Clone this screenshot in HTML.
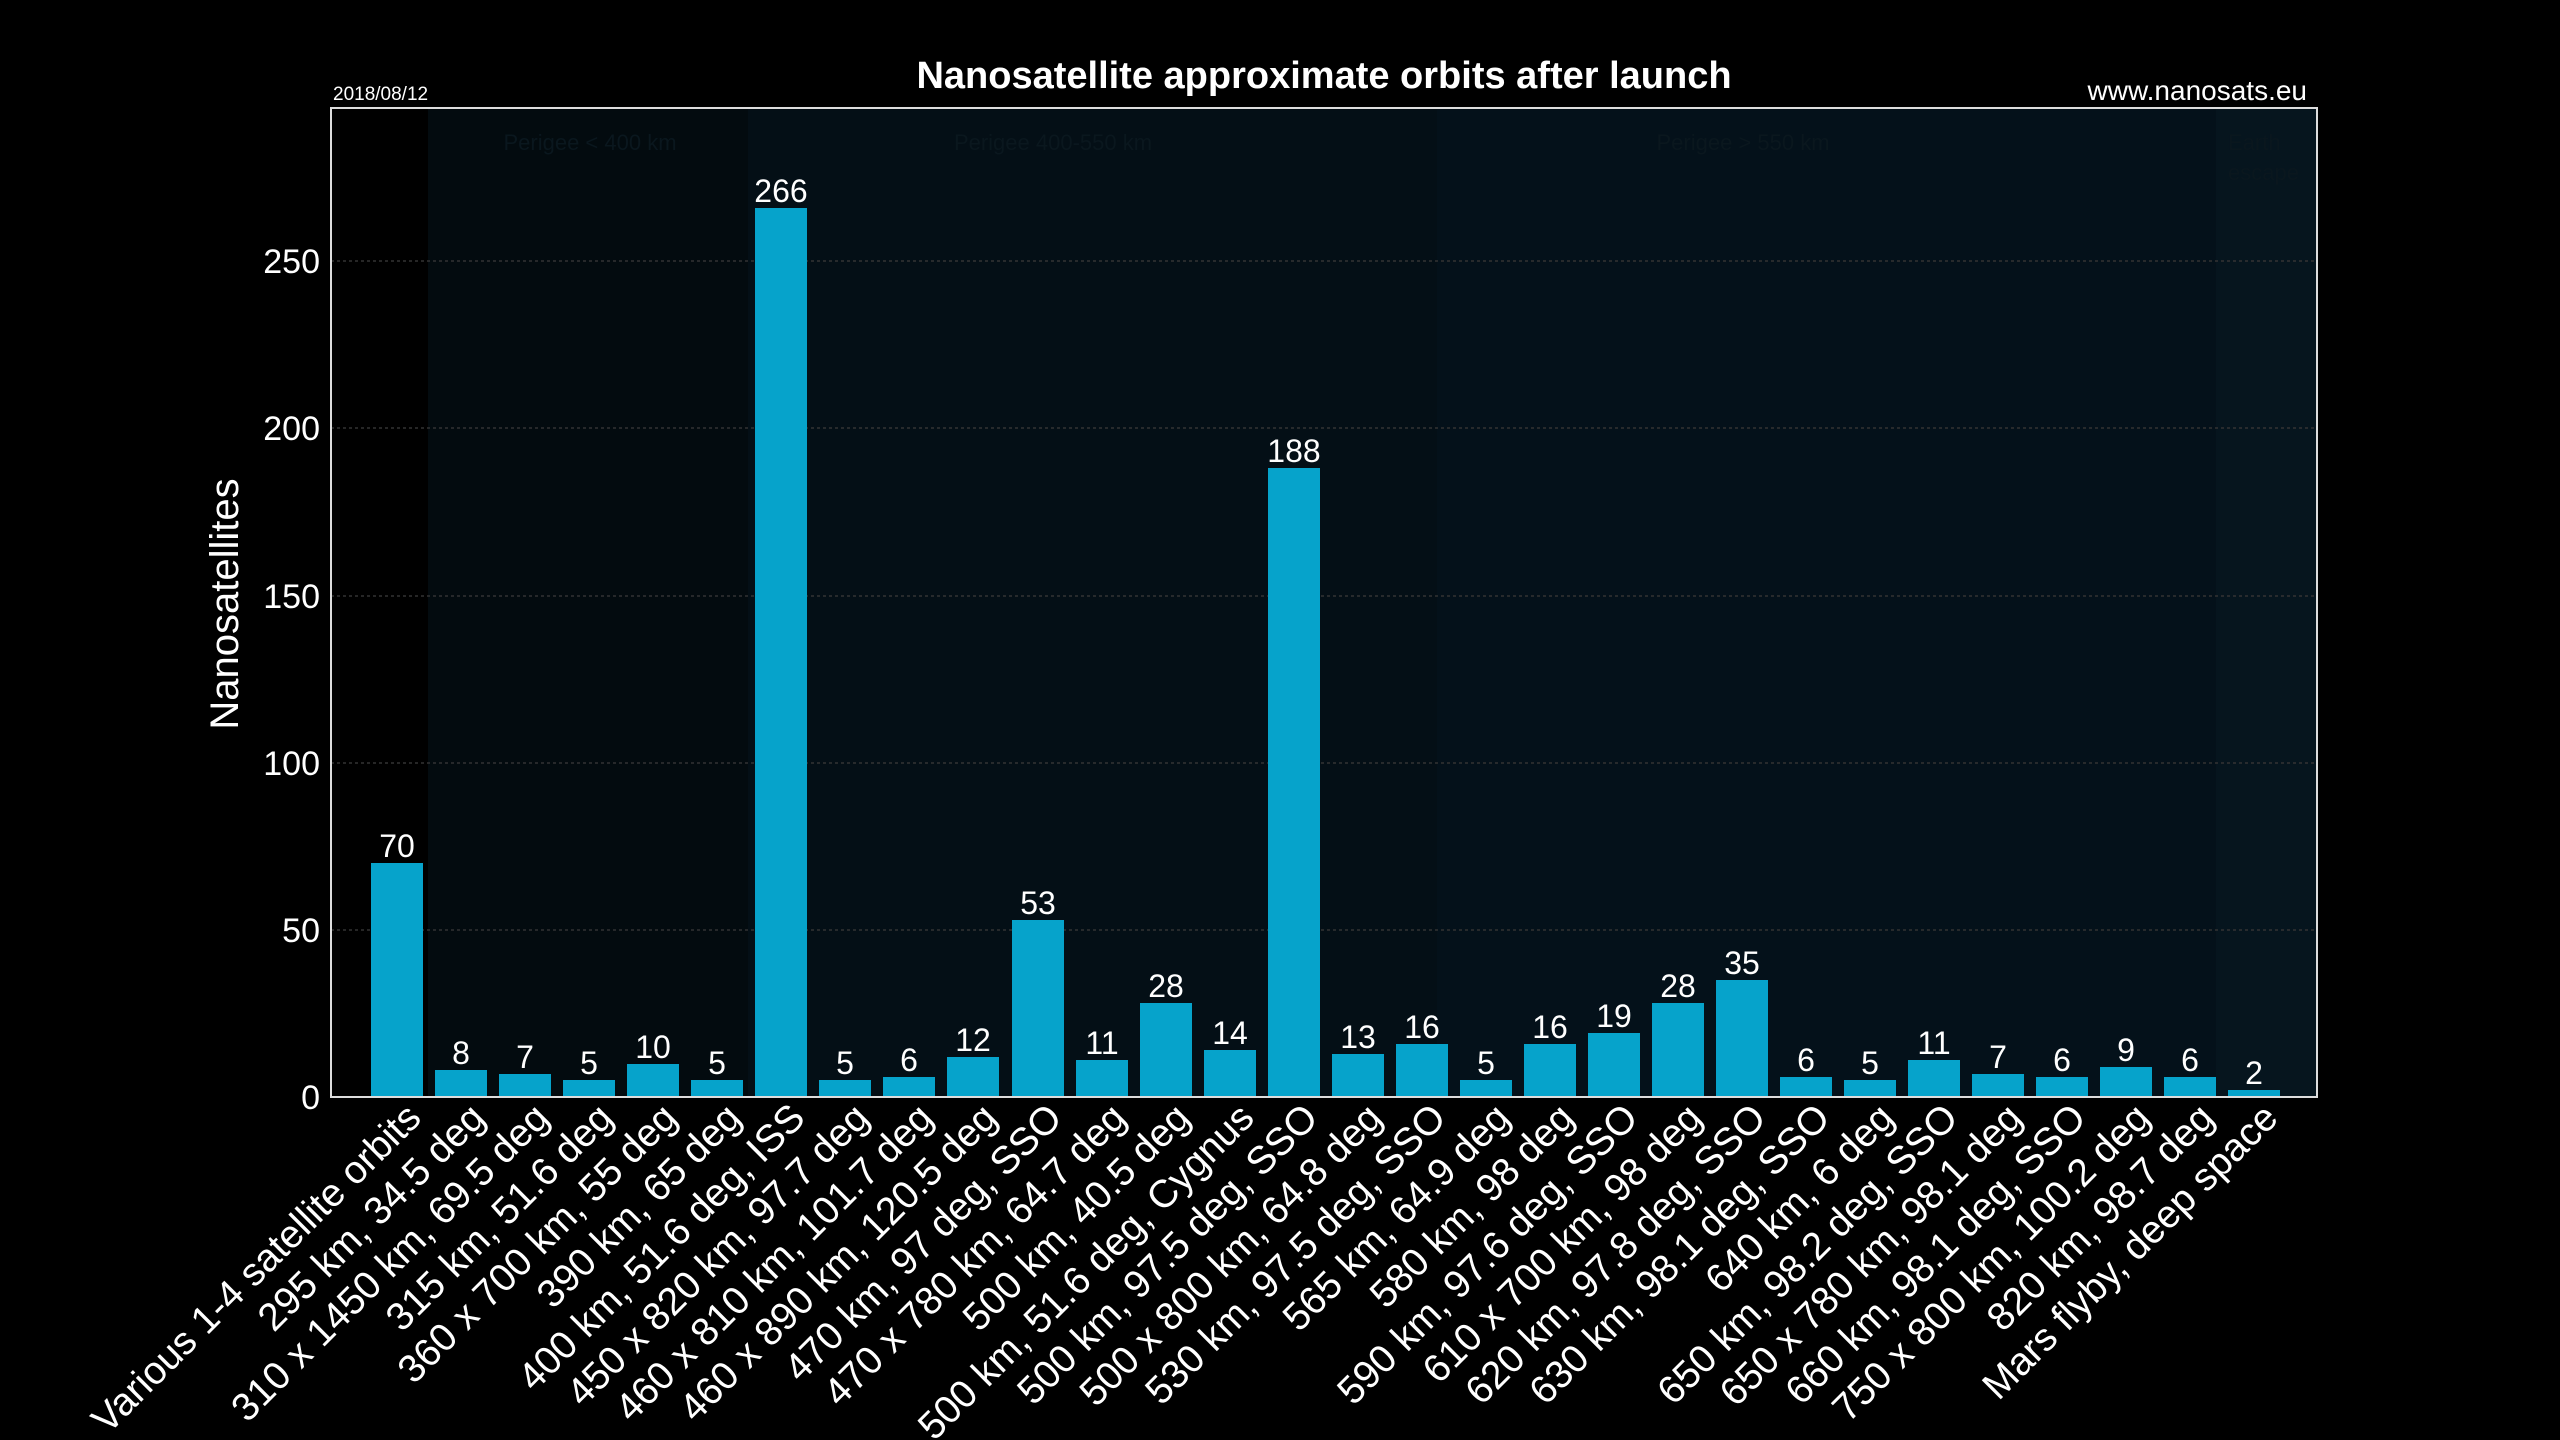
<!DOCTYPE html>
<html><head><meta charset="utf-8"><style>
html,body{margin:0;padding:0;background:#000;}
svg{display:block;font-family:"Liberation Sans",sans-serif;}
</style></head><body>
<svg width="2560" height="1440" xmlns="http://www.w3.org/2000/svg">
<rect width="2560" height="1440" fill="#000"/>
<rect x="331" y="108" width="97" height="989" fill="#000"/>
<rect x="428" y="108" width="320" height="989" fill="#030b0f"/>
<rect x="748" y="108" width="689" height="989" fill="#040f16"/>
<rect x="1437" y="108" width="779" height="989" fill="#04111a"/>
<rect x="2216" y="108" width="101" height="989" fill="#06151e"/>
<g fill="#0a171e" font-size="22">
<text x="590" y="150" text-anchor="middle">Perigee &lt; 400 km</text>
<text x="1053" y="150" text-anchor="middle">Perigee 400-550 km</text>
<text x="1743" y="150" text-anchor="middle">Perigee &gt; 550 km</text>
<text x="2228" y="150">Earth</text>
<text x="2228" y="180">escape</text>
</g>
<g stroke="#333" stroke-width="1.5" stroke-dasharray="3,3">
<line x1="331" x2="2317" y1="930" y2="930"/>
<line x1="331" x2="2317" y1="763" y2="763"/>
<line x1="331" x2="2317" y1="596" y2="596"/>
<line x1="331" x2="2317" y1="428" y2="428"/>
<line x1="331" x2="2317" y1="261" y2="261"/>
</g>
<g fill="#fff" font-size="34" text-anchor="end">
<text x="320" y="1109">0</text>
<text x="320" y="942">50</text>
<text x="320" y="775">100</text>
<text x="320" y="608">150</text>
<text x="320" y="440">200</text>
<text x="320" y="273">250</text>
</g>
<text transform="translate(238,604) rotate(-90)" fill="#fff" font-size="40" text-anchor="middle">Nanosatellites</text>
<text x="1324" y="88" fill="#fff" font-size="38" font-weight="bold" text-anchor="middle">Nanosatellite approximate orbits after launch</text>
<text x="333" y="100" fill="#fff" font-size="19">2018/08/12</text>
<text x="2307" y="100" fill="#fff" font-size="28" text-anchor="end">www.nanosats.eu</text>
<g fill="#06a3cb">
<rect x="371" y="863" width="52" height="234"/>
<rect x="435" y="1070" width="52" height="27"/>
<rect x="499" y="1074" width="52" height="23"/>
<rect x="563" y="1080" width="52" height="17"/>
<rect x="627" y="1064" width="52" height="33"/>
<rect x="691" y="1080" width="52" height="17"/>
<rect x="755" y="208" width="52" height="889"/>
<rect x="819" y="1080" width="52" height="17"/>
<rect x="883" y="1077" width="52" height="20"/>
<rect x="947" y="1057" width="52" height="40"/>
<rect x="1012" y="920" width="52" height="177"/>
<rect x="1076" y="1060" width="52" height="37"/>
<rect x="1140" y="1003" width="52" height="94"/>
<rect x="1204" y="1050" width="52" height="47"/>
<rect x="1268" y="468" width="52" height="629"/>
<rect x="1332" y="1054" width="52" height="43"/>
<rect x="1396" y="1044" width="52" height="53"/>
<rect x="1460" y="1080" width="52" height="17"/>
<rect x="1524" y="1044" width="52" height="53"/>
<rect x="1588" y="1033" width="52" height="64"/>
<rect x="1652" y="1003" width="52" height="94"/>
<rect x="1716" y="980" width="52" height="117"/>
<rect x="1780" y="1077" width="52" height="20"/>
<rect x="1844" y="1080" width="52" height="17"/>
<rect x="1908" y="1060" width="52" height="37"/>
<rect x="1972" y="1074" width="52" height="23"/>
<rect x="2036" y="1077" width="52" height="20"/>
<rect x="2100" y="1067" width="52" height="30"/>
<rect x="2164" y="1077" width="52" height="20"/>
<rect x="2228" y="1090" width="52" height="7"/>
</g>
<rect x="331" y="108" width="1986" height="989" fill="none" stroke="#ddd" stroke-width="2"/>
<g fill="#fff" font-size="32" text-anchor="middle">
<text x="397" y="857">70</text>
<text x="461" y="1064">8</text>
<text x="525" y="1068">7</text>
<text x="589" y="1074">5</text>
<text x="653" y="1058">10</text>
<text x="717" y="1074">5</text>
<text x="781" y="202">266</text>
<text x="845" y="1074">5</text>
<text x="909" y="1071">6</text>
<text x="973" y="1051">12</text>
<text x="1038" y="914">53</text>
<text x="1102" y="1054">11</text>
<text x="1166" y="997">28</text>
<text x="1230" y="1044">14</text>
<text x="1294" y="462">188</text>
<text x="1358" y="1048">13</text>
<text x="1422" y="1038">16</text>
<text x="1486" y="1074">5</text>
<text x="1550" y="1038">16</text>
<text x="1614" y="1027">19</text>
<text x="1678" y="997">28</text>
<text x="1742" y="974">35</text>
<text x="1806" y="1071">6</text>
<text x="1870" y="1074">5</text>
<text x="1934" y="1054">11</text>
<text x="1998" y="1068">7</text>
<text x="2062" y="1071">6</text>
<text x="2126" y="1061">9</text>
<text x="2190" y="1071">6</text>
<text x="2254" y="1084">2</text>
</g>
<g fill="#fff" font-size="39" text-anchor="end">
<text transform="translate(423,1120) rotate(-45)">Various 1-4 satellite orbits</text>
<text transform="translate(487,1120) rotate(-45)">295 km, 34.5 deg</text>
<text transform="translate(551,1120) rotate(-45)">310 x 1450 km, 69.5 deg</text>
<text transform="translate(615,1120) rotate(-45)">315 km, 51.6 deg</text>
<text transform="translate(679,1120) rotate(-45)">360 x 700 km, 55 deg</text>
<text transform="translate(743,1120) rotate(-45)">390 km, 65 deg</text>
<text transform="translate(807,1120) rotate(-45)">400 km, 51.6 deg, ISS</text>
<text transform="translate(871,1120) rotate(-45)">450 x 820 km, 97.7 deg</text>
<text transform="translate(935,1120) rotate(-45)">460 x 810 km, 101.7 deg</text>
<text transform="translate(999,1120) rotate(-45)">460 x 890 km, 120.5 deg</text>
<text transform="translate(1064,1120) rotate(-45)">470 km, 97 deg, SSO</text>
<text transform="translate(1128,1120) rotate(-45)">470 x 780 km, 64.7 deg</text>
<text transform="translate(1192,1120) rotate(-45)">500 km, 40.5 deg</text>
<text transform="translate(1256,1120) rotate(-45)">500 km, 51.6 deg, Cygnus</text>
<text transform="translate(1320,1120) rotate(-45)">500 km, 97.5 deg, SSO</text>
<text transform="translate(1384,1120) rotate(-45)">500 x 800 km, 64.8 deg</text>
<text transform="translate(1448,1120) rotate(-45)">530 km, 97.5 deg, SSO</text>
<text transform="translate(1512,1120) rotate(-45)">565 km, 64.9 deg</text>
<text transform="translate(1576,1120) rotate(-45)">580 km, 98 deg</text>
<text transform="translate(1640,1120) rotate(-45)">590 km, 97.6 deg, SSO</text>
<text transform="translate(1704,1120) rotate(-45)">610 x 700 km, 98 deg</text>
<text transform="translate(1768,1120) rotate(-45)">620 km, 97.8 deg, SSO</text>
<text transform="translate(1832,1120) rotate(-45)">630 km, 98.1 deg, SSO</text>
<text transform="translate(1896,1120) rotate(-45)">640 km, 6 deg</text>
<text transform="translate(1960,1120) rotate(-45)">650 km, 98.2 deg, SSO</text>
<text transform="translate(2024,1120) rotate(-45)">650 x 780 km, 98.1 deg</text>
<text transform="translate(2088,1120) rotate(-45)">660 km, 98.1 deg, SSO</text>
<text transform="translate(2152,1120) rotate(-45)">750 x 800 km, 100.2 deg</text>
<text transform="translate(2216,1120) rotate(-45)">820 km, 98.7 deg</text>
<text transform="translate(2280,1120) rotate(-45)">Mars flyby, deep space</text>
</g>
</svg>
</body></html>
